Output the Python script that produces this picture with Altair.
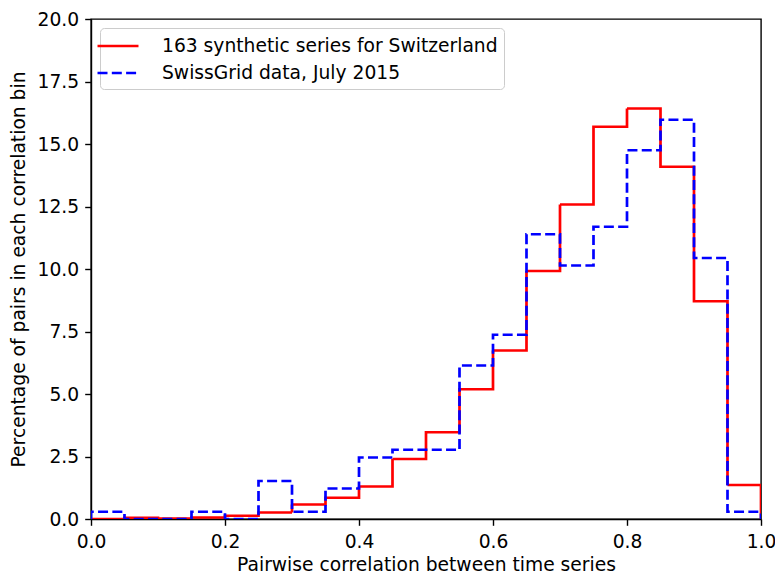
import altair as alt
import pandas as pd

# bin edges: 20 bins of width 0.05 from 0 to 1
bin_left = [round(i * 0.05, 2) for i in range(20)]
bin_right_end = 1.0

series_names = ["163 synthetic series for Switzerland", "SwissGrid data, July 2015"]

synthetic_pct = [0.0, 0.05, 0.02, 0.06, 0.13, 0.26, 0.58, 0.85, 1.30, 2.40,
                 3.47, 5.19, 6.74, 9.92, 12.58, 15.69, 16.42, 14.09, 8.71, 1.36]
swissgrid_pct = [0.29, 0.0, 0.0, 0.29, 0.0, 1.52, 0.29, 1.22, 2.46, 2.77,
                 2.77, 6.14, 7.37, 11.39, 10.14, 11.69, 14.75, 15.97, 10.44, 0.29]

x_ticks = [0.0, 0.2, 0.4, 0.6, 0.8, 1.0]
y_ticks = [0.0, 2.5, 5.0, 7.5, 10.0, 12.5, 15.0, 17.5, 20.0]

rows = []
for name, vals in zip(series_names, [synthetic_pct, swissgrid_pct]):
    idx = 0
    rows.append({"series": name, "x": bin_left[0], "y": 0.0, "idx": idx})
    for xl, v in zip(bin_left, vals):
        idx += 1
        rows.append({"series": name, "x": xl, "y": v, "idx": idx})
    idx += 1
    rows.append({"series": name, "x": bin_right_end, "y": 0.0, "idx": idx})
df = pd.DataFrame(rows)

FONT = "DejaVu Sans"
FS = 18.7

chart = alt.Chart(df).mark_line(
    interpolate="step-after", strokeWidth=2.7, clip=True
).encode(
    x=alt.X("x:Q",
            scale=alt.Scale(domain=[0, 1], nice=False, zero=False),
            axis=alt.Axis(values=x_ticks, format=".1f",
                          title="Pairwise correlation between time series")),
    y=alt.Y("y:Q",
            scale=alt.Scale(domain=[0, 20], nice=False),
            axis=alt.Axis(values=y_ticks, format=".1f",
                          title="Percentage of pairs in each correlation bin")),
    color=alt.Color("series:N",
                    scale=alt.Scale(domain=series_names, range=["#ff0000", "#0000ff"]),
                    legend=alt.Legend(title=None, orient="top-left", offset=9,
                                      symbolType="M-2,0L2,0", symbolSize=420,
                                      symbolStrokeWidth=2.7,
                                      labelFontSize=FS, labelFont=FONT,
                                      labelColor="black", labelLimit=0,
                                      strokeColor="#cccccc", fillColor="white",
                                      cornerRadius=4, padding=6,
                                      rowPadding=5, labelOffset=32)),
    strokeDash=alt.StrokeDash("series:N",
                              scale=alt.Scale(domain=series_names,
                                              range=[[1, 0], [10, 4.3]]),
                              legend=alt.Legend(title=None)),
    order=alt.Order("idx:Q"),
).properties(
    width=670, height=500,
    background="white",
    autosize=alt.AutoSizeParams(type="none"),
    padding={"left": 83, "top": 11, "right": 14, "bottom": 54},
).configure_view(
    stroke="black", strokeWidth=1.4
).configure_axis(
    grid=False,
    labelFont=FONT, labelFontSize=FS, labelColor="black",
    titleFont=FONT, titleFontSize=FS, titleFontWeight="normal", titleColor="black",
    domainColor="black", domainWidth=1.4,
    tickColor="black", tickWidth=1.4, tickSize=6.3,
    labelPadding=6,
).configure_axisX(
    titlePadding=4, labelFlush=False, labelPadding=7
).configure_axisY(
    titlePadding=9, labelFlush=False
)

chart.save("out.html", embed_options={"renderer": "svg", "actions": False})
